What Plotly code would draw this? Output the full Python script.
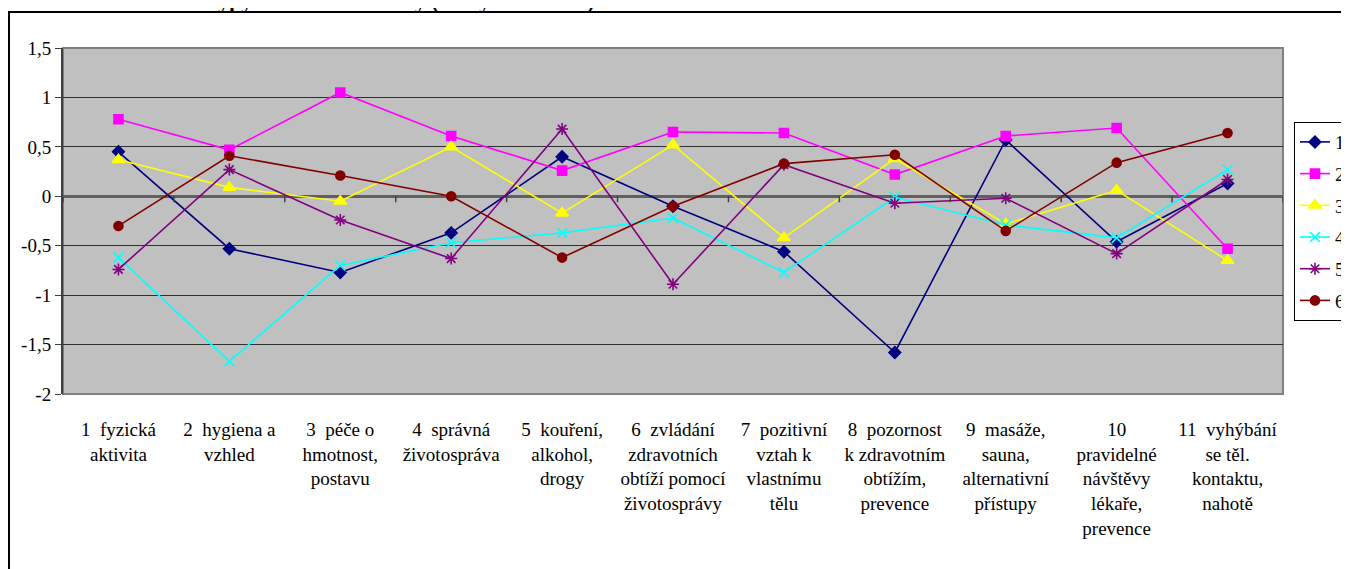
import plotly.graph_objects as go

categories = [
    "1  fyzická<br>aktivita",
    "2  hygiena a<br>vzhled",
    "3  péče o<br>hmotnost,<br>postavu",
    "4  správná<br>životospráva",
    "5  kouření,<br>alkohol,<br>drogy",
    "6  zvládání<br>zdravotních<br>obtíží pomocí<br>životosprávy",
    "7  pozitivní<br>vztah k<br>vlastnímu<br>tělu",
    "8  pozornost<br>k zdravotním<br>obtížím,<br>prevence",
    "9  masáže,<br>sauna,<br>alternativní<br>přístupy",
    "10<br>pravidelné<br>návštěvy<br>lékaře,<br>prevence",
    "11  vyhýbání<br>se těl.<br>kontaktu,<br>nahotě",
]

series_names = ["1", "2", "3", "4", "5", "6"]
s1 = [0.45, -0.53, -0.77, -0.37, 0.40, -0.10, -0.56, -1.58, 0.57, -0.46, 0.13]
s2 = [0.78, 0.47, 1.05, 0.61, 0.26, 0.65, 0.64, 0.22, 0.61, 0.69, -0.53]
s3 = [0.37, 0.09, -0.05, 0.50, -0.17, 0.52, -0.42, 0.38, -0.28, 0.06, -0.65]
s4 = [-0.62, -1.67, -0.70, -0.47, -0.37, -0.22, -0.77, -0.01, -0.29, -0.42, 0.27]
s5 = [-0.74, 0.27, -0.24, -0.63, 0.68, -0.89, 0.32, -0.07, -0.02, -0.58, 0.17]
s6 = [-0.30, 0.41, 0.21, 0.00, -0.62, -0.10, 0.33, 0.42, -0.35, 0.34, 0.64]

ytick_vals = [1.5, 1, 0.5, 0, -0.5, -1, -1.5, -2]
ytick_text = ["1,5", "1", "0,5", "0", "-0,5", "-1", "-1,5", "-2"]

colors = ["#000080", "#FF00FF", "#FFFF00", "#00FFFF", "#800080", "#800000"]
symbols = ["diamond", "square", "triangle-up", "x-thin-open", "asterisk-open", "circle"]
sizes = [9, 9, 11, 10, 10, 9]

serif = "Liberation Serif"

fig = go.Figure()
for i, (name, vals) in enumerate(zip(series_names, [s1, s2, s3, s4, s5, s6])):
    fig.add_trace(go.Scatter(
        x=categories, y=vals, name=name, mode="lines+markers",
        legendgroup=name,
        line=dict(color=colors[i], width=1.6),
        marker=dict(symbol=symbols[i], size=sizes[i], color=colors[i],
                    line=dict(color=colors[i], width=1.6)),
    ))

# tick marks on the zero line at category boundaries
shapes = []
for b in range(len(categories) + 1):
    shapes.append(dict(type="line", xref="x", yref="y", x0=b - 0.5, x1=b - 0.5,
                       y0=0, y1=-0.06, line=dict(color="#404040", width=1.5)))
# plot area border
shapes.append(dict(type="rect", xref="paper", yref="paper", x0=0, x1=1, y0=0, y1=1,
                   line=dict(color="#808080", width=2), layer="below"))
# outer chart frame (page has an 8px body margin)
shapes.append(dict(type="rect", xref="paper", yref="paper",
                   x0=-54 / 1220, x1=1.1, y0=-0.6, y1=1 + 36 / 346,
                   line=dict(color="black", width=2)))

fig.update_layout(
    width=1341, height=561,
    margin=dict(l=55, r=66, t=40, b=175, autoexpand=False),
    paper_bgcolor="white", plot_bgcolor="#C0C0C0",
    shapes=shapes,
    showlegend=True,
    legend=dict(x=1.009, y=0.786, xanchor="left", yanchor="top",
                bordercolor="black", borderwidth=1, bgcolor="white",
                font=dict(family=serif, size=19, color="black"), tracegroupgap=4,
                itemwidth=30),
    annotations=[dict(text="<b>Typy zdravotní aktivity (analýza faktorů)</b>",
                      xref="paper", yref="paper", x=140 / 1220, y=1 + 33 / 346,
                      xanchor="left", yanchor="bottom", showarrow=False,
                      font=dict(family=serif, size=22, color="black"))],
)
fig.update_xaxes(
    showgrid=False, zeroline=False, showline=False,
    ticks="outside", ticklen=18, tickcolor="rgba(0,0,0,0)",
    tickfont=dict(family=serif, size=19, color="black"),
    range=[-0.5, 10.5],
)
fig.update_yaxes(
    range=[-2, 1.5], tickvals=ytick_vals, ticktext=ytick_text,
    showgrid=True, gridcolor="#303030", gridwidth=1,
    zeroline=True, zerolinecolor="#606060", zerolinewidth=2.5,
    showline=True, linecolor="#404040", linewidth=2,
    ticks="outside", ticklen=6, tickcolor="#404040",
    tickfont=dict(family=serif, size=19, color="black"),
)

fig.write_html("out.html")
